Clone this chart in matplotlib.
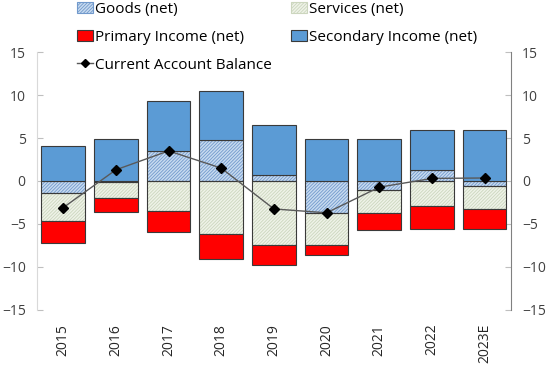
import numpy as np
import matplotlib.pyplot as plt
from matplotlib.patches import Patch
from matplotlib.lines import Line2D

plt.rcParams['font.family'] = ['Open Sans', 'DejaVu Sans']
plt.rcParams['hatch.linewidth'] = 0.6

years = ['2015', '2016', '2017', '2018', '2019', '2020', '2021', '2022', '2023E']
goods = [-1.37, -0.15, 3.5, 4.81, 0.68, -3.77, -1.02, 1.33, -0.56]
services = [-3.3, -1.85, -3.45, -6.12, -7.44, -3.67, -2.71, -2.88, -2.7]
primary = [-2.55, -1.6, -2.44, -2.9, -2.35, -1.16, -1.93, -2.7, -2.32]
secondary = [4.11, 4.89, 5.86, 5.71, 5.87, 4.92, 4.92, 4.56, 5.97]
ca_balance = [-3.1, 1.3, 3.5, 1.5, -3.25, -3.7, -0.72, 0.3, 0.35]

series = [
    (goods, 'Goods (net)', '#C8DBF0', '//////////', '#7199CC'),
    (services, 'Services (net)', '#EFF3E8', '//////////', '#CCD6BE'),
    (primary, 'Primary Income (net)', '#FF0000', None, None),
    (secondary, 'Secondary Income (net)', '#5B9BD5', None, None),
]

fig = plt.figure(figsize=(5.5, 3.69), dpi=100)
ax = fig.add_axes([0.067, 0.16, 0.862, 0.699])

x = np.arange(len(years))
w = 0.83
pos_bottom = np.zeros(len(years))
neg_bottom = np.zeros(len(years))
handles = []
for vals, label, fc, hatch, hc in series:
    v = np.array(vals)
    bottom = np.where(v >= 0, pos_bottom, neg_bottom)
    if hatch:
        ax.bar(x, v, w, bottom=bottom, color=fc, hatch=hatch, edgecolor=hc, linewidth=0, zorder=2)
        ax.bar(x, v, w, bottom=bottom, fill=False, edgecolor='#3A3A3A', linewidth=0.8, zorder=3)
        handles.append(Patch(facecolor=fc, hatch=hatch, edgecolor=hc, linewidth=0.8, label=label))
    else:
        ax.bar(x, v, w, bottom=bottom, color=fc, edgecolor='#3A3A3A', linewidth=0.8, zorder=3)
        handles.append(Patch(facecolor=fc, edgecolor='#3A3A3A', linewidth=0.8, label=label))
    pos_bottom += np.where(v >= 0, v, 0)
    neg_bottom += np.where(v < 0, v, 0)

ax.plot(x, ca_balance, color='#595959', linewidth=1, marker='D', markersize=5,
        markerfacecolor='black', markeredgecolor='black', zorder=4)
ca_handle = Line2D([], [], color='#595959', linewidth=1, marker='D', markersize=4,
                   markerfacecolor='black', markeredgecolor='black', label='Current Account Balance')

ax.set_xlim(-0.5, len(years) - 0.5)
ax.set_ylim(-15, 15)
ax.set_yticks(range(-15, 16, 5))
ax.set_xticks(x)
ax.set_xticklabels(years, rotation=90, fontsize=10, color='#262626')
ax.tick_params(axis='x', length=0, pad=10)
ax.tick_params(axis='y', labelsize=10, labelcolor='#404040', length=4, color='#BFBFBF',
               direction='in', right=True, labelright=True, pad=8)
for s in ['top', 'bottom']:
    ax.spines[s].set_visible(False)
ax.spines['left'].set_color('#D9D9D9')
ax.spines['right'].set_color('#808080')

order = [handles[0], handles[2], ca_handle, handles[1], handles[3]]
fig.legend(handles=order, loc='upper left', bbox_to_anchor=(0.115, 1.033), ncol=2,
           frameon=False, fontsize=11, handlelength=1.05, handleheight=0.75,
           handletextpad=0.15, columnspacing=1.2, labelspacing=0.85)

fig.savefig('out.png', dpi=100)
